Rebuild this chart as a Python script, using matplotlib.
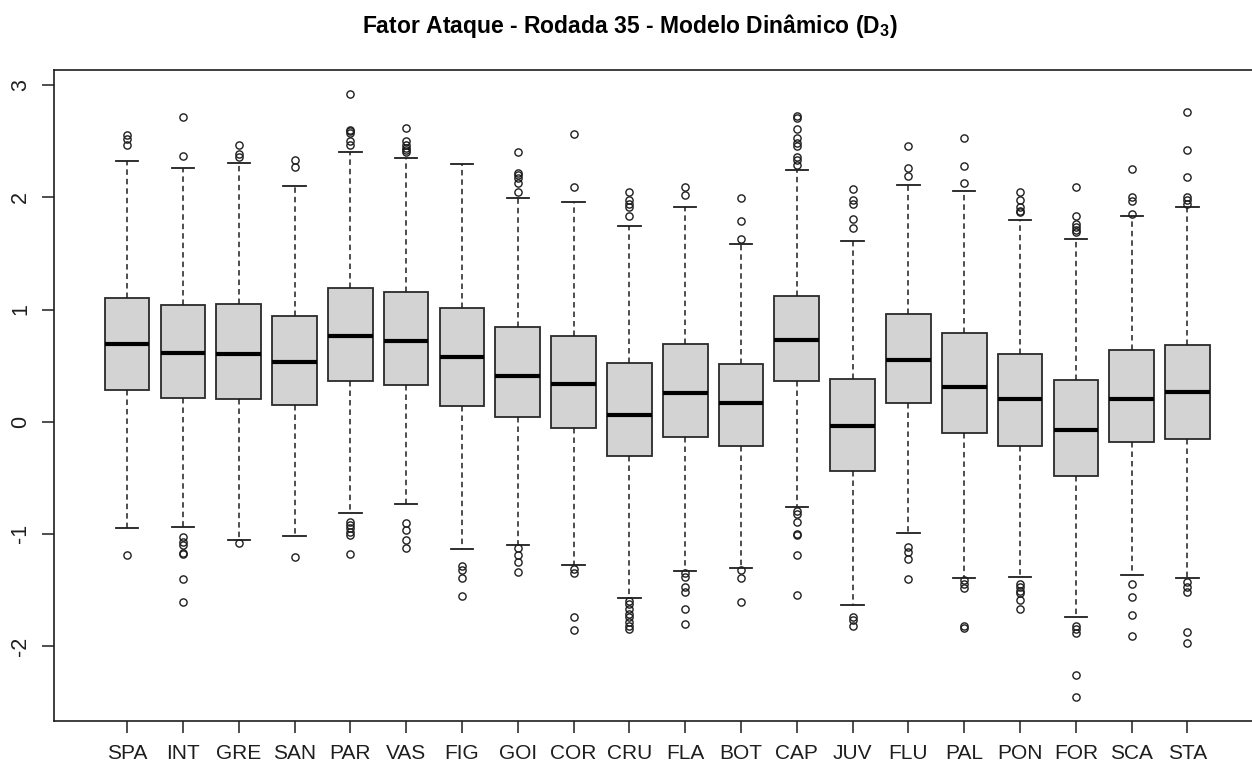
import matplotlib
matplotlib.use("Agg")
import matplotlib.pyplot as plt

plt.rcParams['font.family'] = ['Liberation Sans', 'DejaVu Sans']
plt.rcParams['mathtext.fontset'] = 'custom'
plt.rcParams['mathtext.rm'] = 'Liberation Sans:bold'

labels = ["SPA", "INT", "GRE", "SAN", "PAR", "VAS", "FIG", "GOI", "COR", "CRU",
          "FLA", "BOT", "CAP", "JUV", "FLU", "PAL", "PON", "FOR", "SCA", "STA"]
q1 = [0.28, 0.21, 0.20, 0.15, 0.36, 0.33, 0.14, 0.045, -0.06, -0.31,
      -0.135, -0.215, 0.36, -0.44, 0.17, -0.10, -0.215, -0.485, -0.18, -0.155]
med = [0.695, 0.61, 0.60, 0.53, 0.765, 0.715, 0.58, 0.41, 0.34, 0.06,
       0.255, 0.165, 0.73, -0.04, 0.55, 0.305, 0.20, -0.075, 0.20, 0.265]
q3 = [1.105, 1.04, 1.05, 0.94, 1.19, 1.155, 1.01, 0.84, 0.765, 0.525,
      0.695, 0.515, 1.12, 0.385, 0.96, 0.79, 0.60, 0.37, 0.635, 0.685]
whislo = [-0.945, -0.935, -1.055, -1.015, -0.815, -0.73, -1.135, -1.095, -1.275, -1.57,
          -1.335, -1.30, -0.76, -1.635, -0.995, -1.395, -1.385, -1.74, -1.37, -1.395]
whishi = [2.32, 2.265, 2.31, 2.10, 2.405, 2.35, 2.295, 1.995, 1.955, 1.745,
          1.91, 1.58, 2.245, 1.615, 2.11, 2.06, 1.80, 1.625, 1.83, 1.91]

out_SPA = [2.56, 2.52, 2.47, -1.19]
out_INT = [2.72, 2.37, -1.03, -1.07, -1.10, -1.17, -1.18, -1.40, -1.61]
out_GRE = [2.47, 2.39, 2.36, -1.08]
out_SAN = [2.33, 2.27, -1.21]
out_PAR = [2.92, 2.60, 2.59, 2.57, 2.50, 2.47, -0.89, -0.92, -0.95, -0.98, -1.01, -1.18]
out_VAS = [2.62, 2.50, 2.47, 2.44, 2.42, 2.40, -0.90, -0.965, -1.055, -1.13]
out_FIG = [-1.29, -1.32, -1.39, -1.55]
out_GOI = [2.40, 2.22, 2.20, 2.17, 2.13, 2.045, -1.13, -1.19, -1.25, -1.34]
out_COR = [2.565, 2.09, -1.315, -1.35, -1.745, -1.855]
out_CRU = [2.045, 1.975, 1.94, 1.915, 1.835, -1.595, -1.625, -1.665, -1.71, -1.745,
           -1.785, -1.82, -1.85]
out_FLA = [2.095, 2.02, -1.35, -1.38, -1.47, -1.515, -1.67, -1.80]
out_BOT = [1.99, 1.785, 1.63, -1.32, -1.39, -1.61]
out_CAP = [2.725, 2.705, 2.61, 2.525, 2.48, 2.455, 2.36, 2.33, 2.285,
           -0.795, -0.825, -0.89, -1.0, -1.01, -1.19, -1.545]
out_JUV = [2.07, 1.98, 1.94, 1.805, 1.725, -1.74, -1.77, -1.825]
out_FLU = [2.455, 2.265, 2.19, -1.115, -1.16, -1.225, -1.40]
out_PAL = [2.525, 2.28, 2.125, -1.41, -1.445, -1.485, -1.825, -1.835]
out_PON = [2.05, 1.98, 1.915, 1.88, 1.865, -1.445, -1.475, -1.505, -1.53, -1.59, -1.67]
out_FOR = [2.095, 1.835, 1.76, 1.74, 1.71, 1.695, -1.82, -1.85, -1.885, -2.26, -2.45]
out_SCA = [2.255, 2.005, 1.97, 1.855, -1.445, -1.56, -1.725, -1.91]
out_STA = [2.765, 2.42, 2.185, 2.005, 1.975, 1.945, -1.425, -1.47, -1.515, -1.87, -1.97]

outliers = [out_SPA, out_INT, out_GRE, out_SAN, out_PAR, out_VAS, out_FIG, out_GOI,
            out_COR, out_CRU, out_FLA, out_BOT, out_CAP, out_JUV, out_FLU, out_PAL,
            out_PON, out_FOR, out_SCA, out_STA]

yticks = [-2, -1, 0, 1, 2, 3]
title = r"Fator Ataque - Rodada 35 - Modelo Dinâmico ($\mathregular{D_3}$)"

W, H = 1252, 761
fig = plt.figure(figsize=(W / 100, H / 100), dpi=100)
left_px, right_px, top_px, bot_px = 54, 1260.6, 70, 720.7
ax = fig.add_axes([left_px / W, 1 - bot_px / H, (right_px - left_px) / W, (bot_px - top_px) / H])

stats = []
for i in range(len(labels)):
    stats.append(dict(med=med[i], q1=q1[i], q3=q3[i], whislo=whislo[i],
                      whishi=whishi[i], fliers=outliers[i], label=labels[i]))

ink = '#1e1e1e'
positions = list(range(1, len(labels) + 1))
ax.bxp(stats, positions=positions, widths=0.8, capwidths=0.4, patch_artist=True,
       boxprops=dict(facecolor='#d3d3d3', edgecolor='#2a2a2a', linewidth=1.3),
       medianprops=dict(color='black', linewidth=3.0, solid_capstyle='butt'),
       whiskerprops=dict(color=ink, linewidth=1.1, linestyle=(0, (3.6, 2.6))),
       capprops=dict(color=ink, linewidth=1.3),
       flierprops=dict(marker='o', markerfacecolor='none', markeredgecolor=ink,
                       markersize=5.2, markeredgewidth=1.0))

ax.set_xlim(-0.31, 21.31)
ax.set_ylim(-2.665, 3.135)
ax.set_xticks(positions)
ax.set_xticklabels(labels, fontsize=15, color=ink)
ax.set_yticks(yticks)
ax.set_yticklabels([str(t) for t in yticks], fontsize=15.5, rotation=90, va='center', color=ink)
ax.tick_params(axis='both', direction='out', length=8.5, width=1.1, color=ink, pad=8)
for s in ['left', 'bottom', 'top']:
    ax.spines[s].set_linewidth(1.2)
    ax.spines[s].set_color(ink)
ax.spines['right'].set_visible(False)

fig.text(630 / W, 1 - 26 / H, title, ha='center', va='center', fontsize=16.5,
         fontweight='bold', color='black')

fig.savefig("out.png", dpi=100)
